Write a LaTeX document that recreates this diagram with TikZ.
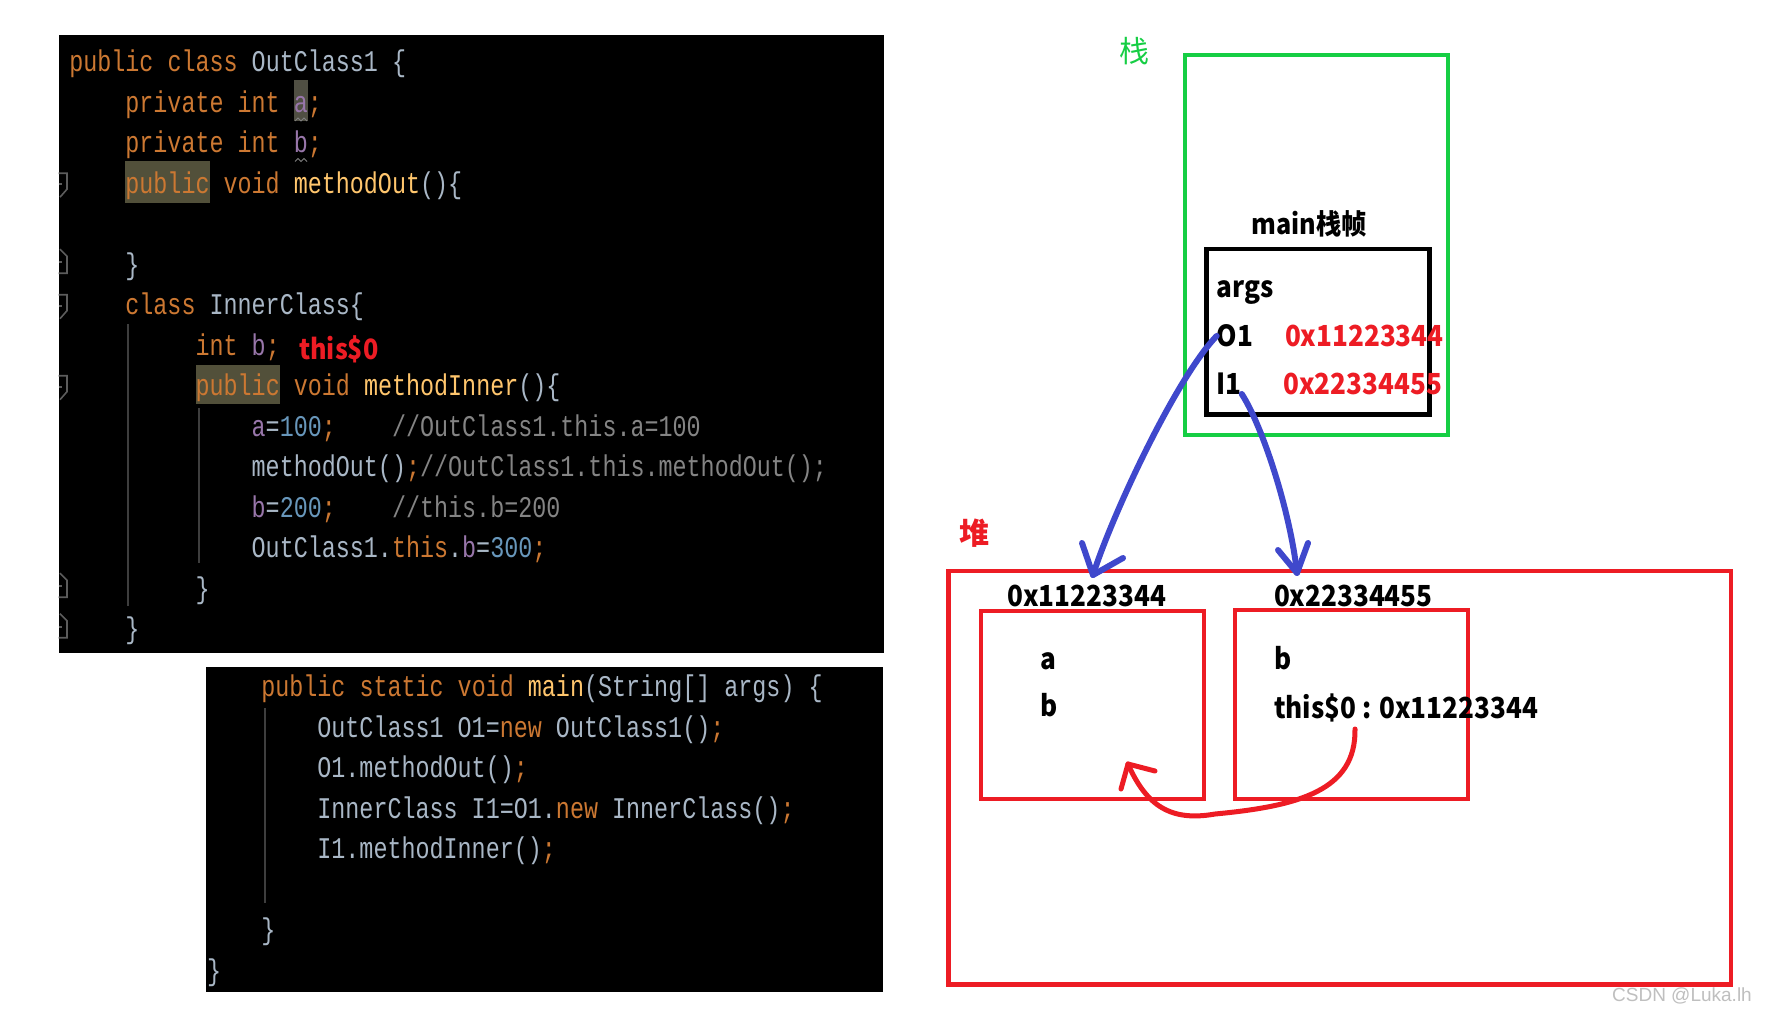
\documentclass[tikz,border=0pt]{standalone}
\usepackage{fontspec}
\newfontfamily\codefont{Liberation Mono}[FakeStretch=0.7795, WordSpace={1,0,0}]
\newfontfamily\cjk{Noto Sans CJK SC}
\newfontfamily\cjkn{Noto Sans CJK SC}[FakeStretch=0.9]
\newfontfamily\wmfont{Liberation Sans}
\definecolor{kw}{HTML}{CC7832}
\definecolor{idc}{HTML}{A9B7C6}
\definecolor{fnc}{HTML}{FFC66D}
\definecolor{fld}{HTML}{9876AA}
\definecolor{numc}{HTML}{6897BB}
\definecolor{cmt}{HTML}{848484}
\definecolor{hl}{HTML}{52503A}
\definecolor{hla}{HTML}{504F43}
\definecolor{guide}{HTML}{3E3E3E}
\definecolor{gut}{HTML}{5C5C5C}
\definecolor{pred}{HTML}{ED1C24}
\definecolor{pblue}{HTML}{3F48CC}
\definecolor{pgreen}{RGB}{22,206,68}
\newcommand\cf{\codefont\fontsize{30}{36}\selectfont}
\newcommand\lbf{\cjkn\bfseries\fontsize{29}{34}\selectfont}
\newcommand\ckw[1]{\textcolor{kw}{#1}}
\newcommand\cid[1]{\textcolor{idc}{#1}}
\newcommand\cfn[1]{\textcolor{fnc}{#1}}
\newcommand\cfld[1]{\textcolor{fld}{#1}}
\newcommand\cnum[1]{\textcolor{numc}{#1}}
\newcommand\ccmt[1]{\textcolor{cmt}{#1}}
\tikzset{
  codeline/.style={anchor=base west, inner sep=0pt, outer sep=0pt, font=\cf},
  lab/.style={anchor=base west, inner sep=0pt, outer sep=0pt, font=\lbf},
  panel/.style={fill=black, draw=none},
  guideline/.style={draw=guide, line width=1.6pt},
  gutmark/.style={draw=gut, line width=1.6pt, line join=miter},
  hlbox/.style={fill=hl, draw=none},
  barrow/.style={draw=pblue, line width=6pt, line cap=round, line join=round},
  rarrow/.style={draw=pred, line width=5pt, line cap=round, line join=round},
  redframe/.style={draw=pred, line width=4.5pt},
}
\begin{document}
\begin{tikzpicture}[x=1pt,y=-1pt]
\useasboundingbox (0,0) rectangle (1766,1012);
\fill[white] (0,0) rectangle (1766,1012);

% ---------- code panel 1 ----------
\path[panel] (58.6,34.9) rectangle (884,653);
\path[hlbox] (125.4,161) rectangle (209.6,203);
\path[hlbox] (195.6,365) rectangle (279.8,404);
\path[fill=hla] (293.8,80) rectangle (307.8,121);
% indent guides
\draw[guideline] (128,324) -- (128,606);
\draw[guideline] (199,408) -- (199,563);
% gutter markers (fold starts / ends)
\foreach \b in {193.2,314.7,395.7} {
  \draw[gutmark] (58.6,\b-20) -- (67,\b-20) -- (67,\b-4) -- (60,\b+4);
  \draw[gutmark] (58.6,\b-9) -- (62,\b-9);
}
\foreach \b in {274.2,598.2,638.7} {
  \draw[gutmark] (60,\b-25) -- (67,\b-18) -- (67,\b-1) -- (58.6,\b-1);
  \draw[gutmark] (58.6,\b-12) -- (62,\b-12);
}
% squiggles under a and b
\draw[gray, line width=1pt] (295,121) -- (298,118) -- (301,121) -- (304,118) -- (307,121);
\draw[gray, line width=1pt] (295,161.5) -- (298,158.5) -- (301,161.5) -- (304,158.5) -- (307,161.5);

\node[codeline] (L0) at (69.3,71.7) {\ckw{public class }\cid{OutClass1 \{}};
\node[codeline] (L1) at (125.4,112.2) {\ckw{private int }\cfld{a}\ckw{;}};
\node[codeline] (L2) at (125.4,152.7) {\ckw{private int }\cfld{b}\ckw{;}};
\node[codeline] (L3) at (125.4,193.2) {\ckw{public void }\cfn{methodOut}\cid{()\{}};
\node[codeline] (L5) at (125.4,274.2) {\cid{\}}};
\node[codeline] (L6) at (125.4,314.7) {\ckw{class }\cid{InnerClass\{}};
\node[codeline] (L7) at (195.6,355.2) {\ckw{int }\cfld{b}\ckw{;}};
\node[anchor=base west, inner sep=0pt, text=pred, font=\cjkn\bfseries\fontsize{28}{32}\selectfont] (this0) at (299,359) {this\$0};
\node[codeline] (L8) at (195.6,395.7) {\ckw{public void }\cfn{methodInner}\cid{()\{}};
\node[codeline] (L9) at (251.7,436.2) {\cfld{a}\cid{=}\cnum{100}\ckw{;}\ccmt{~~~~//OutClass1.this.a=100}};
\node[codeline] (L10) at (251.7,476.7) {\cid{methodOut()}\ckw{;}\ccmt{//OutClass1.this.methodOut();}};
\node[codeline] (L11) at (251.7,517.2) {\cfld{b}\cid{=}\cnum{200}\ckw{;}\ccmt{~~~~//this.b=200}};
\node[codeline] (L12) at (251.7,557.7) {\cid{OutClass1.}\ckw{this}\cid{.}\cfld{b}\cid{=}\cnum{300}\ckw{;}};
\node[codeline] (L13) at (195.6,598.2) {\cid{\}}};
\node[codeline] (L14) at (125.4,638.7) {\cid{\}}};

% ---------- code panel 2 ----------
\path[panel] (206,667) rectangle (883,992);
\draw[guideline] (265,708) -- (265,903);
\node[codeline] (M0) at (261.3,696.7) {\ckw{public static void }\cfn{main}\cid{(String[] args) \{}};
\node[codeline] (M1) at (317.4,737.2) {\cid{OutClass1 O1=}\ckw{new}\cid{~OutClass1()}\ckw{;}};
\node[codeline] (M2) at (317.4,777.7) {\cid{O1.methodOut()}\ckw{;}};
\node[codeline] (M3) at (317.4,818.2) {\cid{InnerClass I1=O1.}\ckw{new}\cid{~InnerClass()}\ckw{;}};
\node[codeline] (M4) at (317.4,858.7) {\cid{I1.methodInner()}\ckw{;}};
\node[codeline] (M6) at (261.3,939.7) {\cid{\}}};
\node[codeline] (M7) at (207,980.2) {\cid{\}}};

% ---------- stack ----------
\node[text=pgreen, font=\cjk\fontsize{30}{34}\selectfont, inner sep=0pt] (zhan) at (1134,51) {栈};
\draw[pgreen, line width=4.2pt] (1185.3,54.7) rectangle (1448,434.7);
\node[lab, font=\cjkn\bfseries\fontsize{28}{32}\selectfont] (frame) at (1251.7,234.3) {main栈帧};
\draw[black, line width=4.4pt] (1206.5,248.7) rectangle (1429.5,414.5);
\node[lab] (args) at (1216.7,297.7) {args};
\node[lab] (O1) at (1216.7,346.7) {O1};
\node[lab, text=pred] (O1v) at (1285,346.7) {0x11223344};
\node[lab] (I1) at (1216.7,394) {I1};
\node[lab, text=pred] (I1v) at (1283.3,394) {0x22334455};

% ---------- heap ----------
\node[text=pred, font=\cjk\bfseries\fontsize{30}{34}\selectfont, inner sep=0pt] (dui) at (974.5,533) {堆};
\draw[redframe] (948.3,571) rectangle (1731,984.4);
\draw[redframe] (981,610.8) rectangle (1204.2,798.8);
\draw[redframe] (1234.8,609.8) rectangle (1468.2,798.8);
\node[lab] (hA) at (1007.3,606.7) {0x11223344};
\node[lab] (hB) at (1274,606.5) {0x22334455};
\node[lab] (fa) at (1040.7,669.3) {a};
\node[lab] (fb) at (1040.7,716.7) {b};
\node[lab] (gb) at (1274,669.3) {b};
\node[lab] (gthis) at (1274,718.3) {this\$0 : 0x11223344};

% ---------- arrows ----------
\coordinate (o1t) at (1093,575);
\coordinate (o1l) at (1082,543);
\coordinate (o1r) at (1123,558);
\draw[barrow] (O1.west) .. controls (1176,378) and (1112,515) .. (o1t);
\draw[barrow] (o1l) -- (o1t) -- (o1r);

\coordinate (i1t) at (1297,573);
\coordinate (i1l) at (1278,550);
\coordinate (i1r) at (1308,543);
\draw[barrow] (I1.south east) .. controls (1262,425) and (1290,510) .. (i1t);
\draw[barrow] (i1l) -- (i1t) -- (i1r);

\coordinate (rs) at (1355,729);
\coordinate (rm) at (1215,814);
\coordinate (rt) at (1128,764);
\coordinate (rl) at (1121,789);
\coordinate (rr) at (1155,771);
\draw[rarrow] (rs) .. controls (1356,790) and (1300,806) .. (rm)
              .. controls (1170,822) and (1146,805) .. (rt);
\draw[rarrow] (rl) -- (rt) -- (rr);

% watermark
\node[anchor=base east, inner sep=0pt, text=black!25, font=\wmfont\fontsize{19}{22}\selectfont] (wm) at (1752,1001) {CSDN @Luka.lh};
\end{tikzpicture}
\end{document}
